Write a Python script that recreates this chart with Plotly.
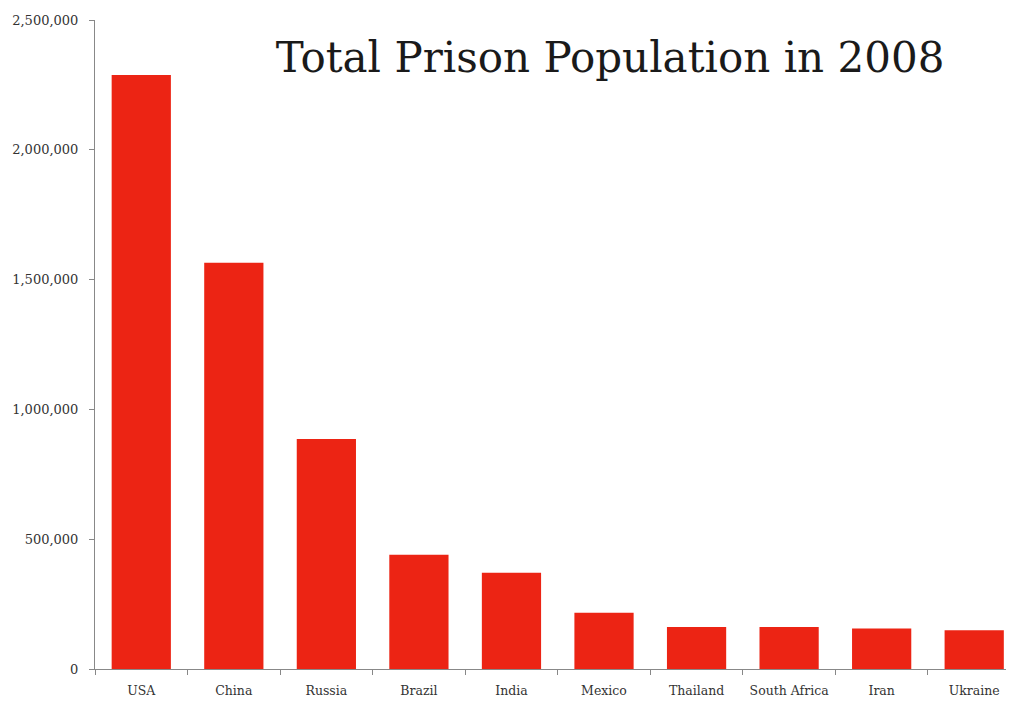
import plotly.graph_objects as go

countries = ["USA", "China", "Russia", "Brazil", "India", "Mexico", "Thailand", "South Africa", "Iran", "Ukraine"]
prisoners = [2288000, 1565000, 886000, 440000, 371000, 217000, 162000, 162000, 156000, 149000]
y_ticks = [0, 500000, 1000000, 1500000, 2000000, 2500000]
y_tick_labels = ["0", "500,000", "1,000,000", "1,500,000", "2,000,000", "2,500,000"]
title_text = "Total Prison Population in 2008"

fig = go.Figure(go.Bar(x=countries, y=prisoners, marker=dict(color="#EC2414", line=dict(width=0)), width=0.64))

fig.update_layout(
    width=1014, height=702,
    margin=dict(l=87, r=8, t=12, b=41),
    paper_bgcolor="white", plot_bgcolor="white",
    showlegend=False,
    title=dict(text=title_text, x=(610-8)/1014, xanchor="center", xref="container",
               y=1-(57-8)/702, yanchor="middle", yref="container",
               font=dict(family="DejaVu Serif", size=42, color="#1a1a1a")),
    font=dict(family="DejaVu Serif", color="#333"),
)
fig.update_xaxes(range=[-0.5, 9.43], showline=True, linecolor="#888", linewidth=1,
                 ticks="outside", tickson="boundaries", ticklen=5, tickcolor="#888",
                 tickfont=dict(family="DejaVu Serif", size=12.5, color="#333"),
                 tickangle=0, automargin=False, ticklabelstandoff=10,
                 showgrid=False, fixedrange=True)
fig.update_yaxes(range=[0, 2500000], tickvals=y_ticks, ticktext=y_tick_labels,
                 showline=True, linecolor="#888", linewidth=1,
                 ticks="outside", ticklen=5, tickcolor="#888",
                 tickfont=dict(family="DejaVu Serif", size=13, color="#333"),
                 automargin=False, ticklabelstandoff=8, showgrid=False, zeroline=False)

fig.write_html("out.html")
